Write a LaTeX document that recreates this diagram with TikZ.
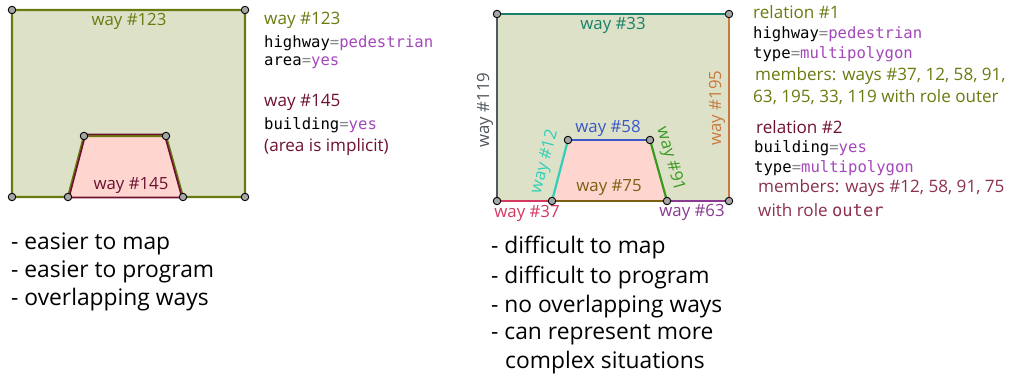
\documentclass[tikz,border=0pt]{standalone}
\usepackage{fontspec}
\setmainfont{Open Sans}
\setmonofont{DejaVu Sans Mono}
\definecolor{olive}{HTML}{6B7A10}
\definecolor{areafill}{HTML}{DDE1C8}
\definecolor{bldfill}{HTML}{FFD5CF}
\definecolor{maroon}{HTML}{6E1030}
\definecolor{maroonlt}{HTML}{8A3050}
\definecolor{val}{HTML}{A347BA}
\definecolor{eqc}{HTML}{8A8A8A}
\definecolor{cteal}{HTML}{1A806A}
\definecolor{corange}{HTML}{C87A40}
\definecolor{cslate}{HTML}{505860}
\definecolor{ccrimson}{HTML}{D43860}
\definecolor{cbrown}{HTML}{7A6010}
\definecolor{cpurple}{HTML}{8A3A90}
\definecolor{cblue}{HTML}{3A58C8}
\definecolor{cturq}{HTML}{30D0B8}
\definecolor{cgreen}{HTML}{3A9A20}
\newcommand{\kv}[2]{\texttt{#1}{\color{eqc}\texttt{=}}{\color{val}\texttt{#2}}}
\begin{document}
\begin{tikzpicture}[x=1pt,y=-1pt,
  vertex/.style={circle,draw=black,fill=gray!70,line width=0.9pt,inner sep=0pt,minimum size=7.5pt},
  wayline/.style={line width=2.2pt},
  lbl/.style={inner sep=0pt,font=\fontsize{16.8}{19}\selectfont},
  info/.style={inner sep=0pt,anchor=west,font=\fontsize{17.1}{19}\selectfont},
  mono/.style={inner sep=0pt,anchor=west,font=\fontsize{15.6}{18}\selectfont},
  pro/.style={inner sep=0pt,anchor=west,font=\fontsize{22.8}{26}\selectfont}]
\useasboundingbox (0,0) rectangle (1012,379);

% ---------- left: simple areas ----------
\coordinate (a1) at (12,10);
\coordinate (a2) at (245,10);
\coordinate (a3) at (245,197);
\coordinate (a4) at (12,197);
\coordinate (b1) at (84,136);
\coordinate (b2) at (166,136);
\coordinate (b3) at (183,197);
\coordinate (b4) at (68,197);

\fill[areafill] (a1) -- (a2) -- (a3) -- (a4) -- cycle;
\fill[bldfill] (b1) -- (b2) -- (b3) -- (b4) -- cycle;
\draw[wayline,olive,line join=round] (a1) -- (a2) -- (a3) -- (b3) -- (b2) -- (b1) -- (b4) -- (a4) -- cycle;
\draw[line width=1.6pt,maroon,line join=round] ([xshift=1.5pt,yshift=1.6pt]b1) -- ([xshift=-1.5pt,yshift=1.6pt]b2) -- ([xshift=-1pt,yshift=-0.5pt]b3) -- ([xshift=1pt,yshift=-0.5pt]b4) -- cycle;

\foreach \p in {a1,a2,a3,a4,b1,b2,b3,b4} \node[vertex] (v\p) at (\p) {};

\node[lbl,text=olive] (l123) at (129,21) {way \#123};
\node[lbl,text=maroon] (l145) at (131,185) {way \#145};

\node[info,text=olive] (t1) at (264,20) {way \#123};
\node[mono] (t2) at (264,43) {\kv{highway}{pedestrian}};
\node[mono] (t3) at (264,63) {\kv{area}{yes}};
\node[info,text=maroon] (t4) at (264,102) {way \#145};
\node[mono] (t5) at (264,125) {\kv{building}{yes}};
\node[info,text=maroon] (t6) at (264,147) {(area is implicit)};

\node[pro] (p1) at (11,244) {- easier to map};
\node[pro] (p2) at (11,272) {- easier to program};
\node[pro] (p3) at (11,300) {- overlapping ways};

% ---------- right: multipolygon relations ----------
\coordinate (c1) at (497,14);
\coordinate (c2) at (729,14);
\coordinate (c3) at (729,201);
\coordinate (c4) at (497,201);
\coordinate (d1) at (568,140);
\coordinate (d2) at (650,140);
\coordinate (d3) at (667,201);
\coordinate (d4) at (552,201);

\fill[areafill] (c1) -- (c2) -- (c3) -- (c4) -- cycle;
\fill[bldfill] (d1) -- (d2) -- (d3) -- (d4) -- cycle;
\draw[wayline,cteal] (c1) -- (c2);
\draw[wayline,corange] (c2) -- (c3);
\draw[wayline,cpurple] (c3) -- (d3);
\draw[wayline,cbrown] (d3) -- (d4);
\draw[wayline,ccrimson] (d4) -- (c4);
\draw[wayline,cslate] (c4) -- (c1);
\draw[wayline,cturq] (d4) -- (d1);
\draw[wayline,cblue] (d1) -- (d2);
\draw[wayline,cgreen] (d2) -- (d3);

\foreach \p in {c1,c2,c3,c4,d1,d2,d3,d4} \node[vertex] (v\p) at (\p) {};

\node[lbl,text=cteal] (l33) at (613,25) {way \#33};
\node[lbl,text=corange,rotate=90] (l195) at (717,108) {way \#195};
\node[lbl,text=cslate,rotate=90] (l119) at (485,110) {way \#119};
\node[lbl,text=ccrimson] (l37) at (527,213) {way \#37};
\node[lbl,text=cpurple] (l63) at (692,212) {way \#63};
\node[lbl,text=cbrown] (l75) at (609,188) {way \#75};
\node[lbl,text=cblue] (l58) at (608,128) {way \#58};
\node[lbl,text=cturq,rotate=75] (l12) at (545,162) {way \#12};
\node[lbl,text=cgreen,rotate=-74] (l91) at (670,159) {way \#91};

\node[info,text=olive] (r1) at (753,12) {relation \#1};
\node[mono] (r2) at (753,34) {\kv{highway}{pedestrian}};
\node[mono] (r3) at (753,54) {\kv{type}{multipolygon}};
\node[info,text=olive] (r4) at (755,76) {members: ways \#37, 12, 58, 91,};
\node[info,text=olive] (r5) at (753,97) {63, 195, 33, 119 with role outer};
\node[info,text=maroon] (r6) at (756,127) {relation \#2};
\node[mono] (r7) at (754,148) {\kv{building}{yes}};
\node[mono] (r8) at (754,168) {\kv{type}{multipolygon}};
\node[info,text=maroonlt] (r9) at (758,188) {members: ways \#12, 58, 91, 75};
\node[info,text=maroonlt] (r10) at (758,210) {with role \texttt{outer}};

\node[pro] (q1) at (491,248) {- difficult to map};
\node[pro] (q2) at (491,278) {- difficult to program};
\node[pro] (q3) at (491,307) {- no overlapping ways};
\node[pro] (q4) at (491,335) {- can represent more};
\node[pro] (q5) at (505,363) {complex situations};
\end{tikzpicture}
\end{document}
